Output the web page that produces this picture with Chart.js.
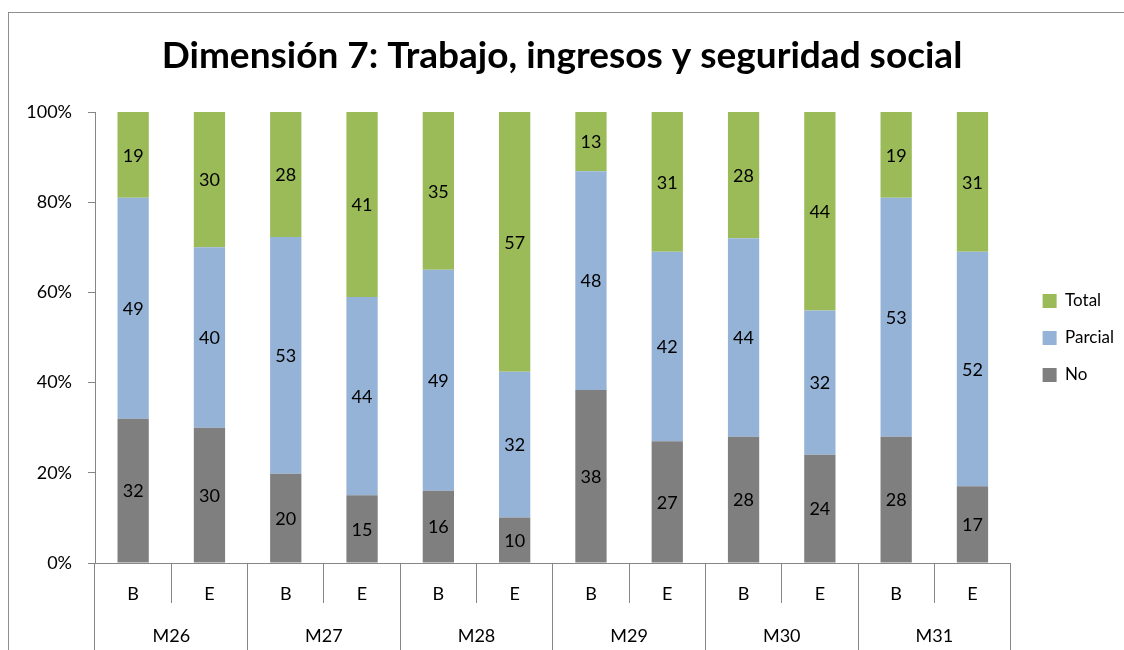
<!DOCTYPE html>
<html lang="es">
<head>
<meta charset="UTF-8">
<title>Dimensión 7: Trabajo, ingresos y seguridad social</title>
<script src="https://cdn.jsdelivr.net/npm/chart.js"></script>
<style>
  html, body { margin: 0; padding: 0; background: #fff; }
</style>
</head>
<body>
<canvas id="myChart" width="1124" height="650"></canvas>
<script>
// Datos
const categorias = ['B', 'E', 'B', 'E', 'B', 'E', 'B', 'E', 'B', 'E', 'B', 'E'];
const grupos = ['M26', 'M27', 'M28', 'M29', 'M30', 'M31'];
const valoresNo = [32, 30, 20, 15, 16, 10, 38, 27, 28, 24, 28, 17];
const valoresParcial = [49, 40, 53, 44, 49, 32, 48, 42, 44, 32, 53, 52];
const valoresTotal = [19, 30, 28, 41, 35, 57, 13, 31, 28, 44, 19, 31];
const ticksY = [0, 20, 40, 60, 80, 100];

// 100% apilado: cada barra se normaliza a su suma
const sumas = categorias.map((c, i) => valoresNo[i] + valoresParcial[i] + valoresTotal[i]);
const porcentaje = arr => arr.map((v, i) => v * 100 / sumas[i]);

const fuente = 'Lato, "Open Sans", sans-serif';
const gris = '#868686';

// marco exterior del grafico
const marco = {
    id: 'marco',
    beforeDraw(chart) {
        const c = chart.ctx;
        c.save();
        c.fillStyle = '#fff';
        c.fillRect(0, 0, chart.width, chart.height);
        c.strokeStyle = '#8e8e8e';
        c.lineWidth = 1;
        c.strokeRect(8.5, 12.5, 1300, 700);
        c.restore();
    }
};

// etiquetas con el valor dentro de cada segmento
const etiquetas = {
    id: 'etiquetas',
    afterDatasetsDraw(chart) {
        const c = chart.ctx;
        c.save();
        c.font = '18px ' + fuente;
        c.fillStyle = '#000';
        c.textAlign = 'center';
        c.textBaseline = 'middle';
        chart.data.datasets.forEach((ds, d) => {
            chart.getDatasetMeta(d).data.forEach((bar, i) => {
                const p = bar.getProps(['x', 'y', 'base'], true);
                c.fillText(ds.valores[i], p.x, (p.y + p.base) / 2 + 1);
            });
        });
        c.restore();
    }
};

const ctx = document.getElementById('myChart');
new Chart(ctx, {
    type: 'bar',
    data: {
        labels: categorias,
        datasets: [
            { label: 'No', data: porcentaje(valoresNo), valores: valoresNo, backgroundColor: '#7F7F7F' },
            { label: 'Parcial', data: porcentaje(valoresParcial), valores: valoresParcial, backgroundColor: '#95B3D7' },
            { label: 'Total', data: porcentaje(valoresTotal), valores: valoresTotal, backgroundColor: '#9BBB59' }
        ]
    },
    options: {
        responsive: false,
        animation: false,
        devicePixelRatio: 1,
        datasets: { bar: { barPercentage: 0.41, categoryPercentage: 1 } },
        layout: { padding: { left: 0, right: 0, top: 0, bottom: 0 } },
        scales: {
            x: {
                stacked: true,
                grid: { offset: true, drawOnChartArea: false, tickLength: 40, color: gris },
                border: { color: gris },
                ticks: { color: '#000', font: { family: fuente, size: 18 }, padding: -20, maxRotation: 0, autoSkip: false },
                afterFit: s => { s.height = 40; }
            },
            x2: {
                type: 'category',
                labels: grupos,
                position: 'bottom',
                grid: { offset: true, drawOnChartArea: false, tickLength: 50, color: gris },
                border: { display: false },
                ticks: { color: '#000', font: { family: fuente, size: 18 }, padding: -28, maxRotation: 0, autoSkip: false },
                afterFit: s => { s.height = 47; }
            },
            y: {
                stacked: true,
                min: 0,
                max: 100,
                grid: { drawOnChartArea: false, tickLength: 7, color: gris },
                border: { color: gris },
                ticks: { color: '#000', font: { family: fuente, size: 18 }, padding: 16, callback: v => v + '%' },
                afterBuildTicks: s => { s.ticks = ticksY.map(v => ({ value: v })); },
                afterFit: s => { s.width = 95; }
            },
            hueco: {
                type: 'linear',
                position: 'right',
                grid: { display: false },
                border: { display: false },
                ticks: { display: false },
                afterFit: s => { s.width = 12; }
            }
        },
        plugins: {
            title: {
                display: true,
                text: 'Dimensión 7: Trabajo, ingresos y seguridad social',
                color: '#000',
                font: { family: fuente, size: 37, weight: 'bold', lineHeight: 1.2 },
                padding: { top: 34, bottom: 33.6 }
            },
            legend: {
                position: 'right',
                reverse: true,
                title: { display: true, text: ' ', padding: 7, font: { size: 10 } },
                labels: {
                    boxWidth: 14,
                    boxHeight: 14,
                    padding: 20,
                    color: '#000',
                    font: { family: fuente, size: 17 }
                }
            },
            tooltip: { enabled: false }
        }
    },
    plugins: [marco, etiquetas]
});
</script>
</body>
</html>
